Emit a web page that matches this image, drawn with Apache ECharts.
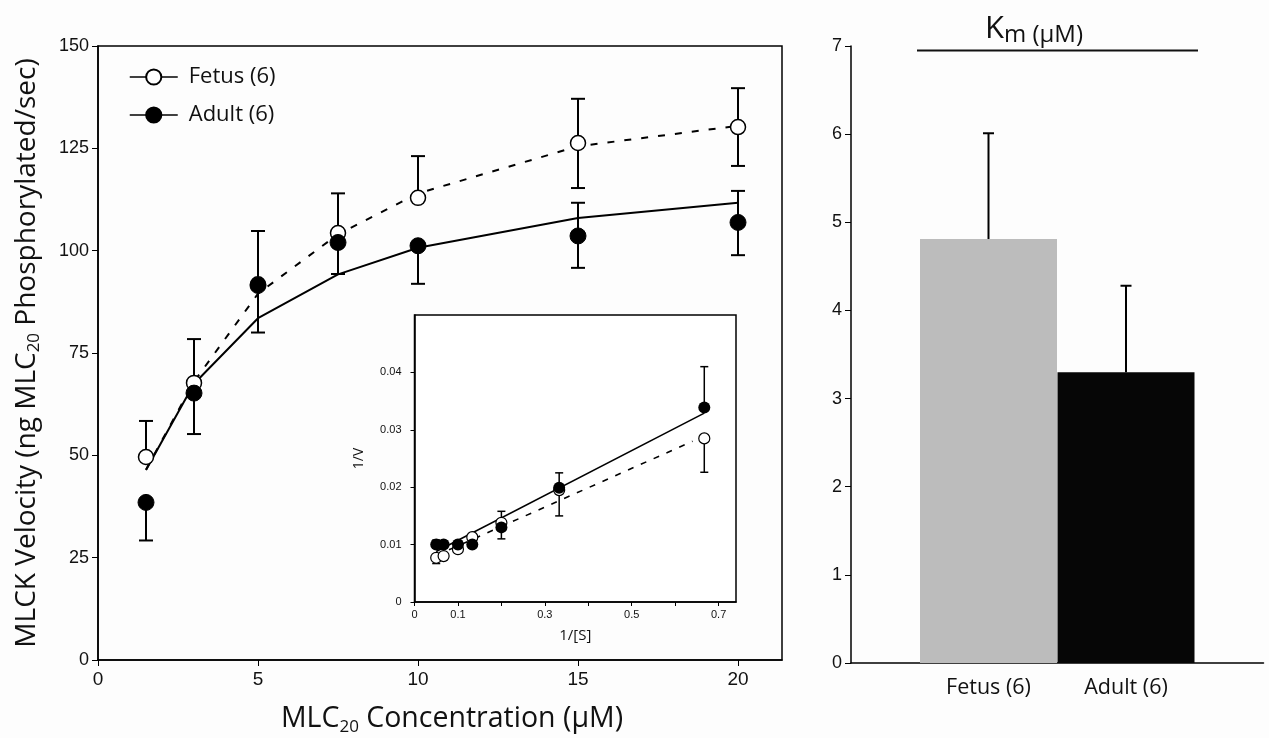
<!DOCTYPE html>
<html><head><meta charset="utf-8">
<script src="https://cdn.jsdelivr.net/npm/echarts@6/dist/echarts.min.js"></script>
<style>html,body{margin:0;padding:0;background:#fdfdfd}#c{width:1269px;height:738px}</style>
</head><body><div id="c"></div>
<script>
// ---- Main plot: MLCK velocity vs MLC20 concentration ----
const conc = [1.5, 3, 5, 7.5, 10, 15, 20];
const fetusV = [49.6, 67.7, 91.8, 104.3, 112.9, 126.3, 130.2];
const adultV = [38.5, 65.2, 91.5, 102.0, 101.2, 103.6, 106.9];
const fetusErrLow = [49.6, 67.7, 91.8, 104.3, 112.9, 115.3, 120.7];
const fetusErrHigh = [58.4, 78.4, 104.8, 114.0, 123.1, 137.1, 139.7];
const adultErrLow = [29.2, 55.2, 80.0, 94.3, 91.9, 95.8, 98.9];
const adultErrHigh = [38.5, 65.2, 91.5, 102.0, 101.2, 111.7, 114.6];
const fetusFit = [46.5, 68.0, 89.5, 104.0, 114.0, 125.5, 130.5];
const adultFit = [46.4, 67.5, 83.5, 94.2, 100.7, 108.0, 111.7];
const xTicks = [0, 5, 10, 15, 20];
const yTicks = [0, 25, 50, 75, 100, 125, 150];

// ---- Inset: Lineweaver-Burk ----
const invS = [0.05, 0.067, 0.1, 0.133, 0.2, 0.333, 0.667];
const fetusInvV = [0.0077, 0.0080, 0.0092, 0.0113, 0.0138, 0.0195, 0.0285];
const adultInvV = [0.0100, 0.0100, 0.0100, 0.0100, 0.0130, 0.0199, 0.0339];
const fetusInvLow = [0.0067, 0.0080, 0.0085, 0.0113, 0.0138, 0.0195, 0.0226];
const fetusInvHigh = [0.0077, 0.0080, 0.0092, 0.0113, 0.0158, 0.0195, 0.0285];
const adultInvLow = [0.0100, 0.0100, 0.0100, 0.0100, 0.0110, 0.0150, 0.0339];
const adultInvHigh = [0.0108, 0.0106, 0.0100, 0.0100, 0.0130, 0.0225, 0.0410];
const adultLineX = [0.05, 0.667];
const adultLineY = [0.0088, 0.0329];
const fetusLineX = [0.05, 0.64];
const fetusLineY = [0.0081, 0.0280];
const insetXLabels = [0, 0.1, 0.3, 0.5, 0.7];
const insetXTicks = [0, 0.1, 0.2, 0.3, 0.4, 0.5, 0.6, 0.7];
const insetYTicks = [0, 0.01, 0.02, 0.03, 0.04];

// ---- Km bars ----
const kmCats = ['', 'Fetus (6)', 'Adult (6)', ' '];
const kmValues = [4.81, 3.30];
const kmErrHigh = [6.01, 4.28];
const kmColors = ['#bcbcbc', '#060606'];

const NUM = 'Liberation Sans, Arial, sans-serif';
const TXT = 'Open Sans, Noto Sans, sans-serif';

function zip(xs, ys) { return xs.map((x, i) => [x, ys[i]]); }
function errData(xs, mean, lo, hi) { return xs.map((x, i) => [x, mean[i], lo[i], hi[i]]); }
function errRender(capW, lw) {
  return function (params, api) {
    const x = api.value(0), m = api.value(1), lo = api.value(2), hi = api.value(3);
    const pLo = api.coord([x, lo]), pHi = api.coord([x, hi]);
    const st = { stroke: '#000', lineWidth: lw };
    const ch = [{ type: 'line', shape: { x1: pLo[0], y1: pLo[1], x2: pHi[0], y2: pHi[1] }, style: st }];
    if (Math.abs(hi - m) > 1e-9) ch.push({ type: 'line', shape: { x1: pHi[0] - capW / 2, y1: pHi[1], x2: pHi[0] + capW / 2, y2: pHi[1] }, style: st });
    if (Math.abs(m - lo) > 1e-9) ch.push({ type: 'line', shape: { x1: pLo[0] - capW / 2, y1: pLo[1], x2: pLo[0] + capW / 2, y2: pLo[1] }, style: st });
    return { type: 'group', children: ch };
  };
}

const richSub = (big, small) => ({
  n: { fontSize: big, fontFamily: TXT, color: '#111', lineHeight: big + 4 },
  s: { fontSize: small, fontFamily: TXT, color: '#111', lineHeight: small + 1, verticalAlign: 'bottom' }
});

const chart = echarts.init(document.getElementById('c'), null, { renderer: 'canvas' });
const option = {
  animation: false,
  backgroundColor: '#fdfdfd',
  grid: [
    { left: 98, top: 46, width: 684, height: 614, show: true, borderColor: '#000', borderWidth: 1.5, backgroundColor: 'transparent', outerBoundsMode: 'none', containLabel: false },
    { left: 414.5, top: 315, width: 321.5, height: 287, show: true, borderColor: '#000', borderWidth: 1.5, backgroundColor: '#fff', outerBoundsMode: 'none', containLabel: false },
    { left: 851, top: 46, width: 412.5, height: 617, show: false, outerBoundsMode: 'none', containLabel: false }
  ],
  legend: {
    left: 129, top: 66, orient: 'vertical', padding: 0, itemWidth: 48, itemHeight: 19, itemGap: 16,
    textStyle: { fontSize: 22, fontFamily: TXT, color: '#111', padding: [0, 0, 0, 6] },
    data: [
      { name: 'Fetus (6)', lineStyle: { opacity: 1, width: 1.5, color: '#000', type: 'solid' } },
      { name: 'Adult (6)', lineStyle: { opacity: 1, width: 1.5, color: '#000', type: 'solid' } }
    ]
  },
  xAxis: [
    {
      gridIndex: 0, type: 'value', min: 0, max: 21.375, interval: 5,
      axisLine: { lineStyle: { color: '#000', width: 1.5 } },
      axisTick: { show: true, length: 6, lineStyle: { color: '#000' }, customValues: xTicks },
      axisLabel: { fontSize: 19, fontFamily: NUM, color: '#111', margin: 10, customValues: xTicks,
        formatter: v => (v % 5 === 0 ? String(v) : '') },
      splitLine: { show: false },
      name: '{n|MLC}{s|20}{n| Concentration (μM)}', nameLocation: 'middle', nameGap: 43,
      nameTextStyle: { rich: richSub(28.5, 17), padding: [0, 0, 0, 24] }
    },
    {
      gridIndex: 1, type: 'value', min: 0, max: 0.74, interval: 0.1,
      axisLine: { lineStyle: { color: '#000', width: 1.5 } },
      axisTick: { show: true, length: 4, lineStyle: { color: '#000' }, customValues: insetXTicks },
      axisLabel: { fontSize: 11, fontFamily: NUM, color: '#111', margin: 7, customValues: insetXLabels,
        formatter: v => { const r = Math.round(v * 10); return (Math.abs(v * 10 - r) < 1e-6 && (r === 0 || r % 2 === 1) && r <= 7) ? (r === 0 ? '0' : (r / 10).toFixed(1)) : ''; } },
      splitLine: { show: false },
      name: '1/[S]', nameLocation: 'middle', nameGap: 26,
      nameTextStyle: { fontSize: 15, fontFamily: TXT, color: '#111' }
    },
    {
      gridIndex: 2, type: 'category', data: kmCats, boundaryGap: false,
      axisLine: { lineStyle: { color: '#000', width: 1.5 } },
      axisTick: { show: false },
      axisLabel: { fontSize: 21.5, fontFamily: TXT, color: '#111', margin: 14 },
      splitLine: { show: false }
    }
  ],
  yAxis: [
    {
      gridIndex: 0, type: 'value', min: 0, max: 150, interval: 25,
      axisLine: { show: true, lineStyle: { color: '#000', width: 1.5 } },
      axisTick: { show: true, length: 6, lineStyle: { color: '#000' } },
      axisLabel: { fontSize: 18, fontFamily: NUM, color: '#111', margin: 9 },
      splitLine: { show: false },
      name: '{n|MLCK Velocity (ng MLC}{s|20}{n| Phosphorylated/sec)}', nameLocation: 'middle', nameGap: 55, nameRotate: 90,
      nameTextStyle: { rich: richSub(28, 17) }
    },
    {
      gridIndex: 1, type: 'value', min: 0, max: 0.05, interval: 0.01,
      axisLine: { show: true, lineStyle: { color: '#000', width: 1.5 } },
      axisTick: { show: true, length: 4, lineStyle: { color: '#000' }, customValues: insetYTicks },
      axisLabel: { fontSize: 11, fontFamily: NUM, color: '#111', margin: 13, customValues: insetYTicks,
        formatter: v => (v > 0.045 ? '' : (v === 0 ? '0' : v.toFixed(2))) },
      splitLine: { show: false },
      name: '1/V', nameLocation: 'middle', nameGap: 48, nameRotate: 90,
      nameTextStyle: { fontSize: 14, fontFamily: TXT, color: '#111' }
    },
    {
      gridIndex: 2, type: 'value', min: 0, max: 7, interval: 1,
      axisLine: { show: true, lineStyle: { color: '#000', width: 1.5 } },
      axisTick: { show: true, length: 6, lineStyle: { color: '#000' } },
      axisLabel: { fontSize: 18, fontFamily: NUM, color: '#111', margin: 9 },
      splitLine: { show: false }
    }
  ],
  series: [
    // main fits
    { type: 'line', xAxisIndex: 0, yAxisIndex: 0, data: zip(conc, fetusFit), showSymbol: false, silent: true,
      lineStyle: { color: '#000', width: 2, type: [7, 10] }, z: 2 },
    { type: 'line', xAxisIndex: 0, yAxisIndex: 0, data: zip(conc, adultFit), showSymbol: false, silent: true,
      lineStyle: { color: '#000', width: 2, type: 'solid' }, z: 2 },
    // main error bars
    { type: 'custom', xAxisIndex: 0, yAxisIndex: 0, renderItem: errRender(14, 2), data: errData(conc, fetusV, fetusErrLow, fetusErrHigh), z: 3, silent: true },
    { type: 'custom', xAxisIndex: 0, yAxisIndex: 0, renderItem: errRender(14, 2), data: errData(conc, adultV, adultErrLow, adultErrHigh), z: 3, silent: true },
    // main points
    { name: 'Fetus (6)', type: 'line', xAxisIndex: 0, yAxisIndex: 0, data: zip(conc, fetusV), symbol: 'circle', symbolSize: 15, showSymbol: true,
      lineStyle: { opacity: 0, width: 0 }, itemStyle: { color: '#fff', borderColor: '#000', borderWidth: 1.5 }, z: 4 },
    { name: 'Adult (6)', type: 'line', xAxisIndex: 0, yAxisIndex: 0, data: zip(conc, adultV), symbol: 'circle', symbolSize: 16, showSymbol: true,
      lineStyle: { opacity: 0, width: 0 }, itemStyle: { color: '#000', borderColor: '#000', borderWidth: 1 }, z: 5 },
    // inset lines
    { type: 'line', xAxisIndex: 1, yAxisIndex: 1, data: zip(fetusLineX, fetusLineY), showSymbol: false, silent: true,
      lineStyle: { color: '#000', width: 1.6, type: [6, 8] }, z: 6 },
    { type: 'line', xAxisIndex: 1, yAxisIndex: 1, data: zip(adultLineX, adultLineY), showSymbol: false, silent: true,
      lineStyle: { color: '#000', width: 1.6 }, z: 6 },
    { type: 'custom', xAxisIndex: 1, yAxisIndex: 1, renderItem: errRender(8, 1.5), data: errData(invS, fetusInvV, fetusInvLow, fetusInvHigh), z: 7, silent: true },
    { type: 'custom', xAxisIndex: 1, yAxisIndex: 1, renderItem: errRender(8, 1.5), data: errData(invS, adultInvV, adultInvLow, adultInvHigh), z: 7, silent: true },
    { type: 'scatter', xAxisIndex: 1, yAxisIndex: 1, data: zip(invS, fetusInvV), symbol: 'circle', symbolSize: 11,
      itemStyle: { color: '#fff', borderColor: '#000', borderWidth: 1.2, opacity: 1 }, z: 8, silent: true },
    { type: 'scatter', xAxisIndex: 1, yAxisIndex: 1, data: zip(invS, adultInvV), symbol: 'circle', symbolSize: 12,
      itemStyle: { color: '#000', opacity: 1 }, z: 9, silent: true },
    // Km bars
    { type: 'bar', xAxisIndex: 2, yAxisIndex: 2, barWidth: 137, silent: true,
      data: kmCats.map((c, i) => (i >= 1 && i <= 2 ? { value: kmValues[i - 1], itemStyle: { color: kmColors[i - 1] } } : '-')), z: 2 },
    { type: 'custom', xAxisIndex: 2, yAxisIndex: 2, silent: true, z: 3,
      renderItem: errRender(11, 2), data: kmValues.map((v, i) => [i + 1, v, v, kmErrHigh[i]]) }
  ],
  graphic: [
    { type: 'text', left: 985, top: 14, style: { rich: {
        k: { fontSize: 31, fontFamily: TXT, fill: '#111', lineHeight: 35 },
        m: { fontSize: 24, fontFamily: TXT, fill: '#111', lineHeight: 28, verticalAlign: 'bottom' },
        p: { fontSize: 24, fontFamily: TXT, fill: '#111', lineHeight: 32, verticalAlign: 'bottom' } },
      text: '{k|K}{m|m}{p| (μM)}' } },
    { type: 'line', shape: { x1: 917, y1: 50.5, x2: 1198, y2: 50.5 }, style: { stroke: '#111', lineWidth: 2 } }
  ]
};
chart.setOption(option);
</script>
</body></html>
